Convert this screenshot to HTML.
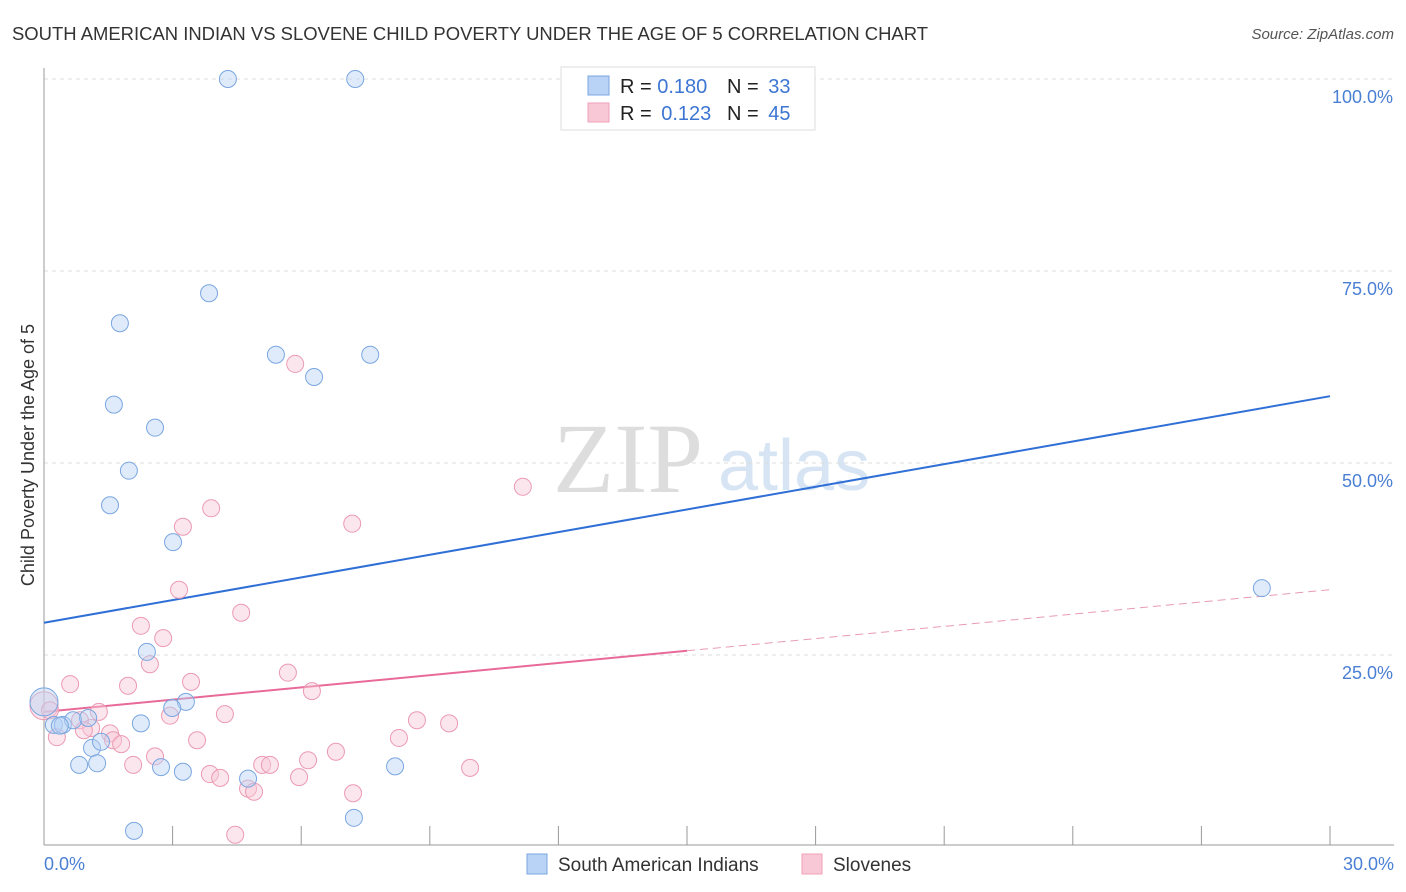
<!DOCTYPE html>
<html><head><meta charset="utf-8"><style>
body{margin:0;background:#fff;font-family:"Liberation Sans",sans-serif;}
svg{display:block}
</style></head><body>
<svg id="chart" width="1406" height="892">
<text x="12" y="40" font-size="18" fill="#333" textLength="916" lengthAdjust="spacingAndGlyphs">SOUTH AMERICAN INDIAN VS SLOVENE CHILD POVERTY UNDER THE AGE OF 5 CORRELATION CHART</text>
<text x="1394" y="39" font-size="15" fill="#555" font-style="italic" text-anchor="end">Source: ZipAtlas.com</text>
<text x="553" y="492" font-size="100" fill="#ddd" font-family="Liberation Serif,serif">ZIP</text>
<text x="718" y="490" font-size="72" fill="#d6e4f4">atlas</text>
<g id="grid"></g><g id="axes"></g><g id="lines"></g><g id="points"></g>
<text transform="translate(34,455) rotate(-90)" font-size="18" fill="#333" text-anchor="middle">Child Poverty Under the Age of 5</text>
<text x="44" y="870" font-size="18" fill="#4a7fd4">0.0%</text>
<text x="1394" y="870" font-size="18" fill="#4a7fd4" text-anchor="end">30.0%</text>
<g>
<rect x="561" y="67" width="254" height="63" fill="#fff" stroke="#ddd"/>
<rect x="588" y="76" width="21" height="19" fill="#b8d3f5" stroke="#7aa6e0"/>
<rect x="588" y="103" width="21" height="19" fill="#f9c8d6" stroke="#f0a0b8"/>
<text x="620" y="93" font-size="20" fill="#222">R = <tspan fill="#3d76d2">0.180</tspan></text>
<text x="727" y="93" font-size="20" fill="#222">N = <tspan fill="#3d76d2" dx="4">33</tspan></text>
<text x="620" y="120" font-size="20" fill="#222">R = <tspan fill="#3d76d2" dx="4">0.123</tspan></text>
<text x="727" y="120" font-size="20" fill="#222">N = <tspan fill="#3d76d2" dx="4">45</tspan></text>
</g>
<g>
<rect x="527" y="854" width="20" height="20" fill="#b8d3f5" stroke="#7aa6e0"/>
<text x="558" y="871" font-size="19" fill="#333">South American Indians</text>
<rect x="802" y="854" width="20" height="20" fill="#f9c8d6" stroke="#f0a0b8"/>
<text x="833" y="871" font-size="19" fill="#333">Slovenes</text>
</g>
</svg>
<script>
const yTicks=[25,50,75,100];
const yTickLabels=["25.0%","50.0%","75.0%","100.0%"];
const xTicks=[0,3,6,9,12,15,18,21,24,27,30];
const blueX=[4.29,7.26,3.85,1.77,5.41,7.61,6.30,1.63,2.59,1.98,1.54,3.01,2.40,3.31,2.99,2.26,0.23,0.44,0.68,1.03,1.12,1.33,0.82,1.24,2.73,3.24,4.76,8.19,2.10,7.23,28.41,0,0.37];
const blueY=[100,100,72.1,68.2,64.1,64.1,61.2,57.6,54.6,49.0,44.5,39.7,25.4,18.9,18.1,16.1,15.9,15.9,16.5,16.8,12.9,13.7,10.7,10.9,10.4,9.8,8.9,10.5,2.1,3.8,33.7,18.9,15.8];
const pinkX=[5.86,11.17,3.90,3.24,7.19,3.15,4.60,2.26,2.78,2.47,0.61,1.96,3.43,5.69,6.25,1.28,2.94,4.22,8.70,9.45,0.84,1.10,1.54,1.61,1.80,3.57,0.30,2.59,2.08,6.81,6.16,8.28,5.09,5.27,3.87,4.11,5.95,4.76,4.90,7.21,9.94,4.46,0,0.14,0.93];
const pinkY=[62.9,46.9,44.1,41.7,42.1,33.5,30.5,28.8,27.2,23.8,21.2,21.0,21.5,22.7,20.3,17.6,17.1,17.3,16.5,16.1,16.5,15.5,14.8,13.9,13.4,13.9,14.3,11.8,10.7,12.4,11.3,14.2,10.7,10.7,9.5,9.0,9.1,7.6,7.2,7.0,10.3,1.6,18.4,17.8,15.2];
const blueTrend=[29.2,58.7];
const pinkTrend=[17.6,33.5];
const pinkSolidEnd=15;
const NS="http://www.w3.org/2000/svg";
const xs=v=>44+v/30*1286, ys=v=>847-v/100*768;
function mk(t,a,p){const e=document.createElementNS(NS,t);for(const k in a)e.setAttribute(k,a[k]);document.getElementById(p).appendChild(e);return e;}
yTicks.forEach((t,i)=>{
 const g=mk('line',{x1:44,x2:1394,y1:ys(t),y2:ys(t),stroke:'#ddd','stroke-dasharray':'4,4'},'grid');
 
 
 const l=mk('text',{x:1393,y:ys(t)+24,'font-size':18,fill:'#4a7fd4','text-anchor':'end'},'grid');
 l.textContent=yTickLabels[i];
 
 
});
const ax=mk('line',{x1:44,x2:1394,y1:845,y2:845,stroke:'#999'},'axes');


const ay=mk('line',{x1:44,x2:44,y1:68,y2:845,stroke:'#999'},'axes');


xTicks.forEach(t=>{
 const e=mk('line',{x1:xs(t),x2:xs(t),y1:826,y2:845,stroke:'#999'},'axes');
 
 
});
function pts(X,Y,fill,stroke,name){
 X.forEach((x,i)=>{
  const big=(x===0);
  const c=mk('circle',{cx:xs(x),cy:ys(Y[i]),r:big?14:8.5,fill:fill,'fill-opacity':0.45,stroke:stroke,'stroke-width':1},'points');
  
  
 });
}
pts(pinkX,pinkY,'#f9c8d6','#eb9ab3','slovene-point');
pts(blueX,blueY,'#b8d3f5','#7aa6e0','south-american-indian-point');
const bl=mk('line',{x1:xs(0),y1:ys(blueTrend[0]),x2:xs(30),y2:ys(blueTrend[1]),stroke:'#2f6fd6','stroke-width':2},'lines');


const pm=pinkTrend[0]+(pinkTrend[1]-pinkTrend[0])*pinkSolidEnd/30;
const pl=mk('line',{x1:xs(0),y1:ys(pinkTrend[0]),x2:xs(pinkSolidEnd),y2:ys(pm),stroke:'#e86a98','stroke-width':2},'lines');


const pd=mk('line',{x1:xs(pinkSolidEnd),y1:ys(pm),x2:xs(30),y2:ys(pinkTrend[1]),stroke:'#e89ab5','stroke-width':1,'stroke-dasharray':'8,5'},'lines');


</script>
</body></html>
